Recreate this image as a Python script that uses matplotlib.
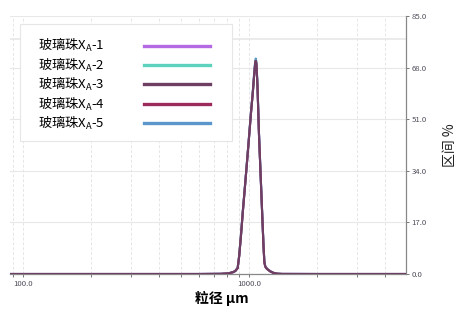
import matplotlib
matplotlib.use("Agg")
import matplotlib.pyplot as plt
from matplotlib.patches import Rectangle
from matplotlib.ticker import FixedLocator, LogLocator, NullFormatter

plt.rcParams['font.family'] = ['Noto Sans CJK SC', 'DejaVu Sans']

# particle size classes (um) and interval % for each sample
sizes = [88, 300, 600, 750, 809, 850, 870, 891, 905, 922, 940, 960, 980,
         1000, 1020, 1040, 1055, 1065, 1071, 1078, 1090, 1107, 1125, 1142,
         1158, 1169, 1180, 1200, 1239, 1280, 1330, 1400, 2000, 5000]
s1 = [0, 0, 0, 0.05, 0.2, 0.6, 1.0, 2.0, 6.0, 13.0, 21.0, 29.0, 37.0,
      45.0, 53.0, 60.0, 66.0, 69.4, 70.2, 69.3, 62.0, 46.0, 33.0, 21.0,
      10.0, 4.0, 2.5, 1.7, 0.9, 0.4, 0.1, 0.02, 0, 0]
s2 = [0, 0, 0, 0.05, 0.2, 0.6, 1.0, 2.0, 6.1, 13.1, 21.1, 29.1, 37.1,
      45.1, 53.1, 60.1, 66.2, 69.6, 70.4, 69.5, 62.2, 46.2, 33.1, 21.1,
      10.1, 4.1, 2.5, 1.7, 0.9, 0.4, 0.1, 0.02, 0, 0]
s3 = [0, 0, 0, 0.05, 0.2, 0.6, 1.0, 2.0, 6.0, 13.0, 21.0, 29.0, 37.0,
      45.0, 53.0, 60.0, 66.0, 69.5, 70.3, 69.4, 62.1, 46.0, 33.0, 21.0,
      10.0, 4.0, 2.5, 1.7, 0.9, 0.4, 0.1, 0.02, 0, 0]
s4 = [0, 0, 0, 0.05, 0.2, 0.6, 1.0, 1.9, 5.9, 12.9, 20.9, 28.9, 36.9,
      44.9, 52.9, 59.9, 65.9, 69.3, 70.1, 69.2, 61.9, 45.9, 32.9, 20.9,
      9.9, 3.9, 2.4, 1.7, 0.9, 0.4, 0.1, 0.02, 0, 0]
s5 = [0, 0, 0, 0.05, 0.2, 0.6, 1.0, 2.1, 6.2, 13.3, 21.3, 29.3, 37.3,
      45.3, 53.4, 60.5, 66.6, 70.1, 71.0, 70.1, 62.6, 46.5, 33.4, 21.3,
      10.2, 4.2, 2.6, 1.8, 1.0, 0.4, 0.1, 0.02, 0, 0]

labels = ['玻璃珠X$_\\mathregular{A}$-1', '玻璃珠X$_\\mathregular{A}$-2',
          '玻璃珠X$_\\mathregular{A}$-3', '玻璃珠X$_\\mathregular{A}$-4',
          '玻璃珠X$_\\mathregular{A}$-5']
colors = ['#b36ae2', '#5dd3be', '#6e3f63', '#9b2c5c', '#5b97cc']
series = [s1, s2, s3, s4, s5]
zorders = [3, 4, 7, 6, 2]

fig = plt.figure(figsize=(4.67, 3.16), dpi=100)
ax = fig.add_axes([10 / 467, 1 - 274 / 316, 396 / 467, 258 / 316])

for vals, lab, col, z in zip(series, labels, colors, zorders):
    ax.plot(sizes, vals, color=col, lw=1.5, label=lab, zorder=z,
            solid_joinstyle='round')

ax.set_xscale('log')
ax.set_xlim(87.6, 4950)
ax.set_ylim(0, 85)

ax.xaxis.set_major_locator(FixedLocator([100, 1000]))
ax.set_xticklabels(['100.0', '1000.0'])
ax.xaxis.set_minor_locator(LogLocator(base=10, subs=range(2, 10)))
ax.xaxis.set_minor_formatter(NullFormatter())

yticks = [0, 17, 34, 51, 68, 85]
ax.yaxis.tick_right()
ax.yaxis.set_label_position('right')
ax.set_yticks(yticks)
ax.set_yticklabels(['%.1f' % t for t in yticks])

ax.tick_params(axis='both', which='both', labelsize=5.6, colors='#777777',
               labelcolor='#4d4d5a', length=2.5, width=0.7, pad=1.5)
ax.tick_params(axis='x', which='minor', length=2)

for side in ['top', 'left']:
    ax.spines[side].set_visible(False)
for side in ['right', 'bottom']:
    ax.spines[side].set_color('#888888')
    ax.spines[side].set_linewidth(0.9)

ax.grid(True, axis='y', color='#e8e8e8', lw=0.8, zorder=0)
ax.axhline(77.3, color='#e8e8e8', lw=1.2, zorder=0)
ax.grid(True, axis='x', which='both', color='#e6e6e6', lw=0.7, ls=(0, (3, 2)), zorder=0)
ax.set_axisbelow(True)

ax.set_xlabel('粒径 μm', fontsize=10, fontweight='bold')
ax.xaxis.set_label_coords(0.535, -0.065)
ax.set_ylabel('区间 %', fontsize=10, rotation=90, labelpad=12, color='#222222')

# legend box drawn separately so its size matches the wide original frame
ax.add_patch(Rectangle((0.0253, 0.5155), 0.535, 0.4535, transform=ax.transAxes,
                       facecolor='white', edgecolor='#e6e6e6', lw=0.8, zorder=8))
leg = ax.legend(loc='upper left', bbox_to_anchor=(0.039, 0.97), fontsize=9.5,
                markerfirst=False, handlelength=5.0, handletextpad=3.0,
                labelspacing=0.1, borderpad=0.95, borderaxespad=0,
                frameon=False)
leg.set_zorder(9)
for line in leg.get_lines():
    line.set_linewidth(2.4)

fig.savefig('out.png', dpi=100)
